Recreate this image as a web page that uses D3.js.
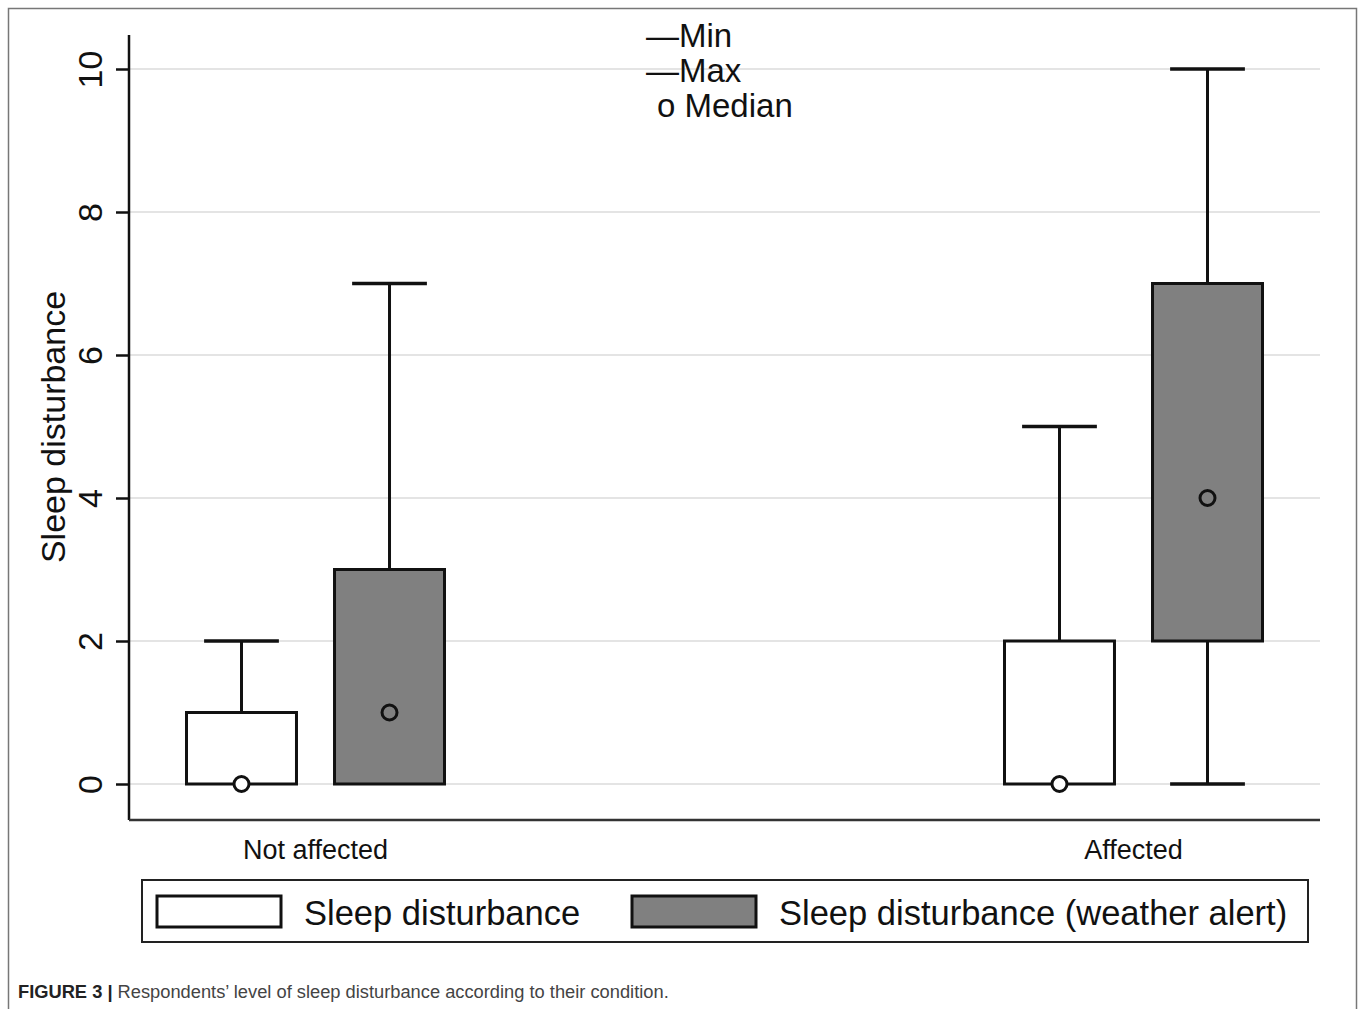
<!DOCTYPE html>
<html>
<head>
<meta charset="utf-8">
<script src="https://cdn.jsdelivr.net/npm/d3@7"></script>
<style>
  body { margin: 0; background: #fff; }
  text { font-family: "Liberation Sans", Arial, sans-serif; }
</style>
</head>
<body>
<div class="chart"></div>
<script>
// Data
const groups = ['Not affected', 'Affected']
const series = ['Sleep disturbance', 'Sleep disturbance (weather alert)']
const seriesFill = ['#ffffff', '#808080']
// one value per group, per series
const minVals = [[0, 0], [0, 0]]
const q1Vals = [[0, 0], [0, 2]]
const medianVals = [[0, 1], [0, 4]]
const q3Vals = [[1, 3], [2, 7]]
const maxVals = [[2, 7], [5, 10]]
const yTicks = [0, 2, 4, 6, 8, 10]

// Dimensions
const width = 1358
const height = 1009
const plot = { left: 129, right: 1320, top: 35, bottom: 820 }

const svg = d3.select('.chart')
  .append('svg')
  .attr('width', width)
  .attr('height', height)

// outer frame
svg.append('rect')
  .attr('x', 8.5).attr('y', 8.5)
  .attr('width', 1348).attr('height', 1010)
  .attr('fill', 'none')
  .attr('stroke', '#777')
  .attr('stroke-width', 1.5)

// Scales
const yScale = d3.scaleLinear()
  .domain([0, 10])
  .range([784, 69])

const xGroup = d3.scalePoint()
  .domain(groups)
  .range([plot.left, plot.right])
  .padding(0.228)

const xSeries = d3.scaleBand()
  .domain(series)
  .range([-129, 129])
  .paddingInner(0.257)

const boxW = xSeries.bandwidth()
const capW = boxW * 0.68

// Grid
svg.append('g')
  .selectAll('line')
  .data(yTicks)
  .join('line')
  .attr('x1', plot.left)
  .attr('x2', plot.right)
  .attr('y1', d => yScale(d))
  .attr('y2', d => yScale(d))
  .attr('stroke', '#e4e4e4')
  .attr('stroke-width', 2)

// Y axis
const yAxis = d3.axisLeft(yScale)
  .tickValues(yTicks)
  .tickSize(13)
  .tickFormat(d3.format('d'))

const yAxisGroup = svg.append('g')
  .attr('transform', `translate(${plot.left},0)`)
  .call(yAxis)

yAxisGroup.select('.domain').remove()
yAxisGroup.selectAll('.tick line')
  .attr('stroke', '#111')
  .attr('stroke-width', 2.5)
yAxisGroup.selectAll('.tick text')
  .attr('x', null).attr('dy', null)
  .attr('transform', 'translate(-27,0) rotate(-90)')
  .attr('text-anchor', 'middle')
  .attr('font-size', 34)
  .attr('font-family', '"Liberation Sans", Arial, sans-serif')
  .attr('fill', '#111')

svg.append('line')
  .attr('x1', plot.left).attr('x2', plot.left)
  .attr('y1', plot.top).attr('y2', plot.bottom)
  .attr('stroke', '#111')
  .attr('stroke-width', 2.5)

// X axis line
svg.append('line')
  .attr('x1', plot.left).attr('x2', plot.right)
  .attr('y1', plot.bottom).attr('y2', plot.bottom)
  .attr('stroke', '#333')
  .attr('stroke-width', 2.5)

// group labels
svg.append('g')
  .selectAll('text')
  .data(groups)
  .join('text')
  .attr('x', d => xGroup(d))
  .attr('y', 859)
  .attr('text-anchor', 'middle')
  .attr('font-size', 27)
  .attr('fill', '#111')
  .text(d => d)

// Y title
svg.append('text')
  .attr('transform', 'translate(65,427) rotate(-90)')
  .attr('text-anchor', 'middle')
  .attr('font-size', 34)
  .attr('fill', '#111')
  .text('Sleep disturbance')

// Boxes
const boxes = []
groups.forEach((g, gi) => {
  series.forEach((s, si) => {
    boxes.push({
      group: g, series: s, si,
      min: minVals[gi][si], q1: q1Vals[gi][si], median: medianVals[gi][si],
      q3: q3Vals[gi][si], max: maxVals[gi][si]
    })
  })
})

const cx = d => xGroup(d.group) + xSeries(d.series) + boxW / 2

const boxG = svg.append('g')
  .selectAll('g')
  .data(boxes)
  .join('g')

// upper whisker
boxG.filter(d => d.max > d.q3).append('line')
  .attr('x1', cx).attr('x2', cx)
  .attr('y1', d => yScale(d.q3)).attr('y2', d => yScale(d.max))
  .attr('stroke', '#111').attr('stroke-width', 3)
boxG.filter(d => d.max > d.q3).append('line')
  .attr('x1', d => cx(d) - capW / 2).attr('x2', d => cx(d) + capW / 2)
  .attr('y1', d => yScale(d.max)).attr('y2', d => yScale(d.max))
  .attr('stroke', '#111').attr('stroke-width', 3.5)

// lower whisker
boxG.filter(d => d.min < d.q1).append('line')
  .attr('x1', cx).attr('x2', cx)
  .attr('y1', d => yScale(d.q1)).attr('y2', d => yScale(d.min))
  .attr('stroke', '#111').attr('stroke-width', 3)
boxG.filter(d => d.min < d.q1).append('line')
  .attr('x1', d => cx(d) - capW / 2).attr('x2', d => cx(d) + capW / 2)
  .attr('y1', d => yScale(d.min)).attr('y2', d => yScale(d.min))
  .attr('stroke', '#111').attr('stroke-width', 3.5)

// box
boxG.append('rect')
  .attr('x', d => cx(d) - boxW / 2)
  .attr('width', boxW)
  .attr('y', d => yScale(d.q3))
  .attr('height', d => yScale(d.q1) - yScale(d.q3))
  .attr('fill', d => seriesFill[d.si])
  .attr('stroke', '#111')
  .attr('stroke-width', 3)

// median
boxG.append('circle')
  .attr('cx', cx)
  .attr('cy', d => yScale(d.median))
  .attr('r', 7.5)
  .attr('fill', d => d.median === d.q1 ? '#fff' : seriesFill[d.si])
  .attr('stroke', '#111')
  .attr('stroke-width', 3)

// top key (Min / Max / Median)
const keyLabels = ['\u2014Min', '\u2014Max', 'o Median']
svg.append('g')
  .selectAll('text')
  .data(keyLabels)
  .join('text')
  .attr('x', (d, i) => i < 2 ? 646 : 657)
  .attr('y', (d, i) => 47 + i * 35)
  .attr('font-size', 33)
  .attr('fill', '#111')
  .text(d => d)

// bottom legend
const legend = svg.append('g')
legend.append('rect')
  .attr('x', 142).attr('y', 880)
  .attr('width', 1166).attr('height', 62)
  .attr('fill', '#fff')
  .attr('stroke', '#222')
  .attr('stroke-width', 2)

const legendX = [157, 632]
const legendItems = legend.selectAll('g.item')
  .data(series)
  .join('g')
  .attr('class', 'item')
  .attr('transform', (d, i) => `translate(${legendX[i]},0)`)

legendItems.append('rect')
  .attr('x', 0).attr('y', 896)
  .attr('width', 124).attr('height', 31)
  .attr('fill', (d, i) => seriesFill[i])
  .attr('stroke', '#111')
  .attr('stroke-width', 3)

legendItems.append('text')
  .attr('x', 147)
  .attr('y', 925)
  .attr('font-size', 34.5)
  .attr('fill', '#111')
  .text(d => d)

// caption
const caption = svg.append('text')
  .attr('x', 18)
  .attr('y', 998)
  .attr('font-size', 18.3)
caption.append('tspan')
  .attr('font-weight', 'bold')
  .attr('fill', '#222')
  .text('FIGURE 3 | ')
caption.append('tspan')
  .attr('fill', '#444')
  .text('Respondents\u2019 level of sleep disturbance according to their condition.')
</script>
</body>
</html>
